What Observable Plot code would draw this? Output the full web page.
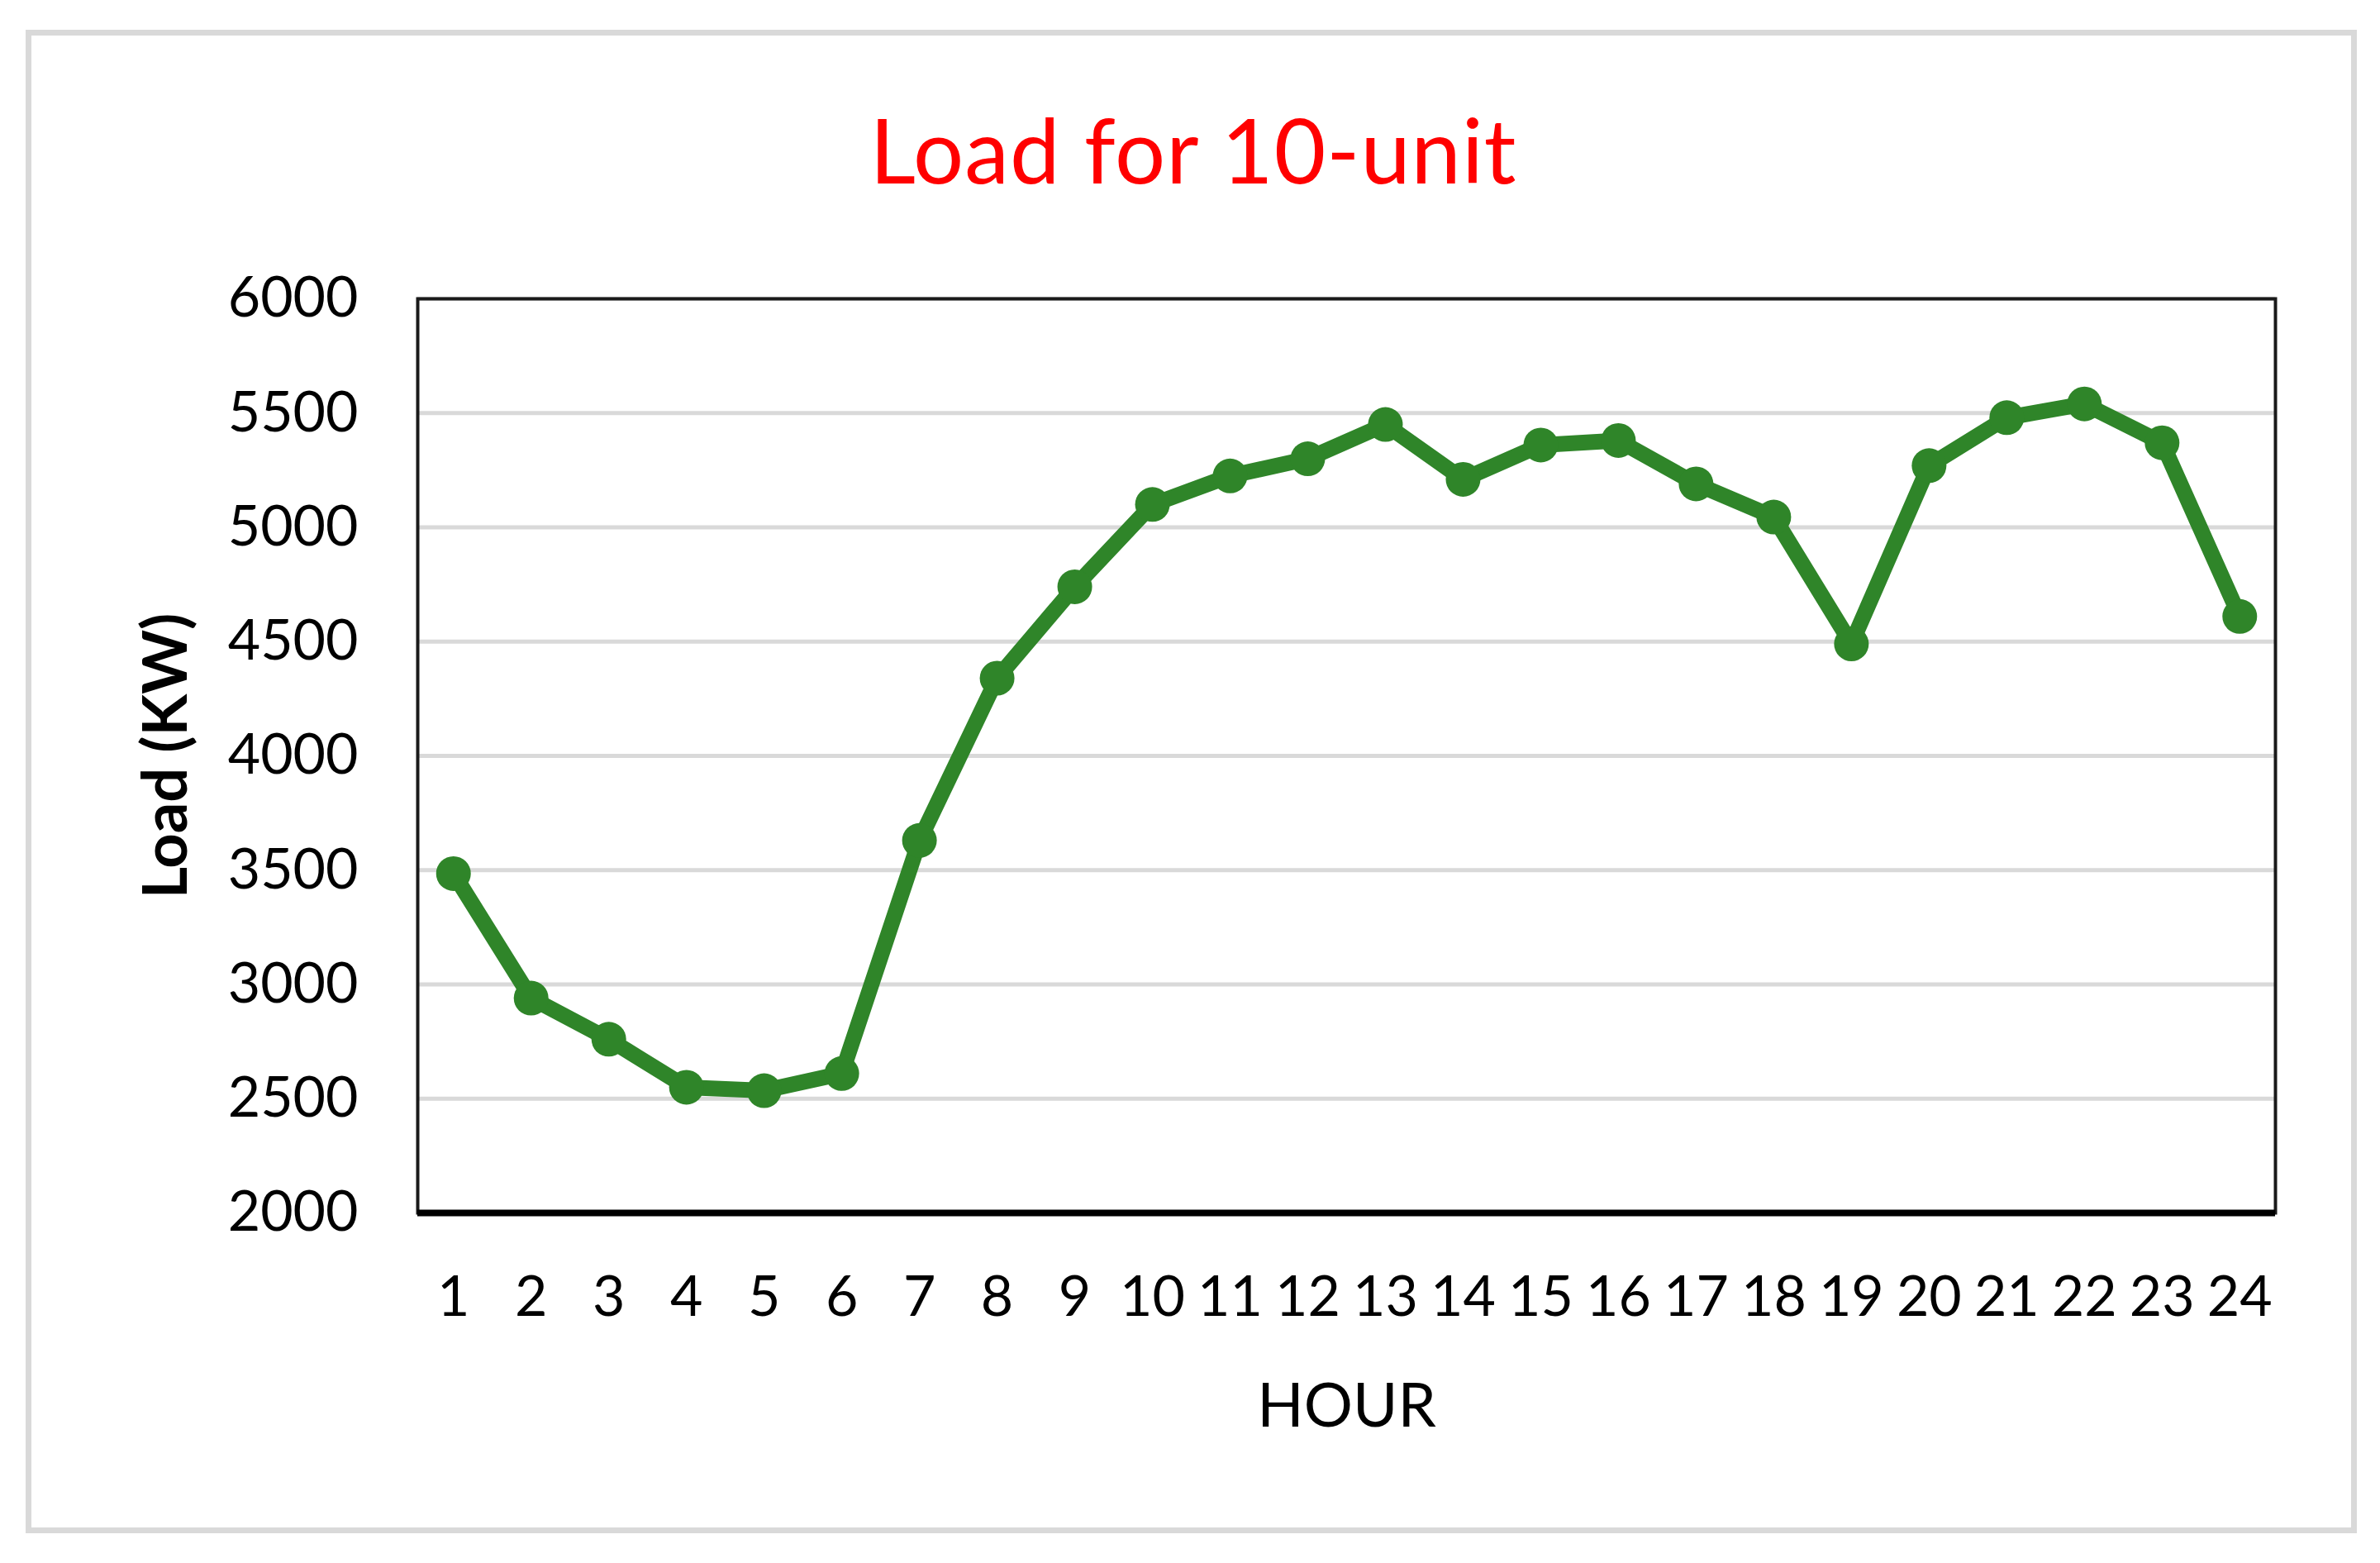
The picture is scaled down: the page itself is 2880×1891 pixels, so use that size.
<!DOCTYPE html>
<html><head><meta charset="utf-8">
<script src="https://cdn.jsdelivr.net/npm/d3@7"></script>
<script src="https://cdn.jsdelivr.net/npm/@observablehq/plot@0.6"></script>
<style>
html,body{margin:0;padding:0;background:#fff;}
#wrap{position:relative;width:2880px;height:1891px;overflow:hidden;background:#fff;}
#border{position:absolute;left:31px;top:36px;width:2821px;height:1819px;box-sizing:border-box;border:7px solid #d9d9d9;}
#title{position:absolute;left:444px;width:2000px;top:126px;text-align:center;font-family:Lato,sans-serif;font-size:108px;letter-spacing:1px;line-height:1;color:#ff0000;white-space:nowrap;}
#chart{position:absolute;left:0;top:0;}
</style></head><body>
<div id="wrap"><div id="border"></div><div id="title">Load for 10-unit</div><div id="chart"></div></div>
<script>
const hours = [1,2,3,4,5,6,7,8,9,10,11,12,13,14,15,16,17,18,19,20,21,22,23,24];
const loads = [3485,2940,2760,2550,2535,2610,3630,4340,4740,5100,5225,5300,5450,5210,5360,5380,5190,5045,4490,5270,5480,5540,5370,4610];
const yTicks = [2000,2500,3000,3500,4000,4500,5000,5500,6000];
const green = "#2f8529";
const data = hours.map((h, i) => ({hour: h, load: loads[i]}));

const plot = Plot.plot({
  width: 2880, height: 1891,
  marginTop: 361, marginBottom: 424, marginLeft: 505, marginRight: 127,
  style: {fontFamily: "Lato, sans-serif", fontSize: "68px", color: "#000", background: "transparent", overflow: "visible"},
  x: {type: "point", domain: hours, padding: 0.46, round: false},
  y: {domain: [2000, 6000]},
  marks: [
    Plot.ruleY(yTicks, {stroke: "#d9d9d9", strokeWidth: 5}),
    Plot.frame({stroke: "#1a1a1a", strokeWidth: 4}),
    Plot.ruleY([2000], {stroke: "#000", strokeWidth: 8}),
    Plot.axisY({ticks: yTicks, tickSize: 0, tickPadding: 72, tickFormat: d => String(d), label: null, fontSize: 68}),
    Plot.axisY({ticks: [], tickSize: 0, label: "Load (KW)", labelAnchor: "center", labelOffset: 332, labelArrow: "none", fontWeight: "bold", fontSize: 74}),
    Plot.axisX({tickSize: 0, tickPadding: 76, tickFormat: d => String(d), label: null, fontSize: 68}),
    Plot.axisX({ticks: [], tickSize: 0, label: "HOUR", labelAnchor: "center", labelOffset: 258, labelArrow: "none", fontSize: 74}),
    Plot.line(data, {x: "hour", y: "load", stroke: green, strokeWidth: 19}),
    Plot.dot(data, {x: "hour", y: "load", r: 21, fill: green})
  ]
});
document.getElementById("chart").appendChild(plot);
</script>
</body></html>
